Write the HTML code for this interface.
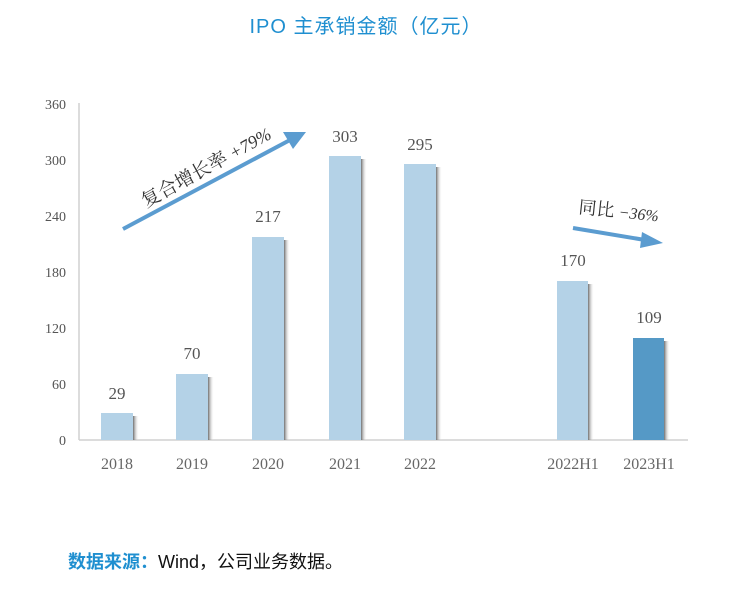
<!DOCTYPE html>
<html><head><meta charset="utf-8"><style>
body{margin:0;background:#fff;width:732px;height:599px;overflow:hidden}
svg text{font-family:"Liberation Serif","Noto Serif CJK SC",serif}
</style></head><body>
<svg width="732" height="599" xmlns="http://www.w3.org/2000/svg">
<defs>
<linearGradient id="sh" x1="0" x2="1"><stop offset="0" stop-color="#6f6f6f"/><stop offset="1" stop-color="#fff" stop-opacity="0"/></linearGradient>
</defs>
<text x="366" y="33" text-anchor="middle" font-size="20" fill="#1f8fd0" style="font-family:'Liberation Sans','Noto Sans CJK SC',sans-serif" letter-spacing="1">IPO 主承销金额（亿元）</text>
<g font-size="14" fill="#555" text-anchor="end">
<text x="66" y="109">360</text><text x="66" y="165">300</text><text x="66" y="221">240</text>
<text x="66" y="277">180</text><text x="66" y="333">120</text><text x="66" y="389">60</text><text x="66" y="445">0</text>
</g>
<line x1="79" y1="103" x2="79" y2="440" stroke="#d0d0d0" stroke-width="1.5"/>
<line x1="79" y1="440" x2="688" y2="440" stroke="#d0d0d0" stroke-width="1.5"/>
<g>
<rect x="133" y="416" width="6" height="24" fill="url(#sh)"/><rect x="101" y="413" width="32" height="27" fill="#b4d2e7"/>
<rect x="208" y="377" width="6" height="63" fill="url(#sh)"/><rect x="176" y="374" width="32" height="66" fill="#b4d2e7"/>
<rect x="284" y="240" width="6" height="200" fill="url(#sh)"/><rect x="252" y="237" width="32" height="203" fill="#b4d2e7"/>
<rect x="361" y="159" width="6" height="281" fill="url(#sh)"/><rect x="329" y="156" width="32" height="284" fill="#b4d2e7"/>
<rect x="436" y="167" width="6" height="273" fill="url(#sh)"/><rect x="404" y="164" width="32" height="276" fill="#b4d2e7"/>
<rect x="588" y="284" width="6" height="156" fill="url(#sh)"/><rect x="557" y="281" width="31" height="159" fill="#b4d2e7"/>
<rect x="664" y="341" width="6" height="99" fill="url(#sh)"/><rect x="633" y="338" width="31" height="102" fill="#5599c6"/>
</g>
<g font-size="17" fill="#555" text-anchor="middle">
<text x="117" y="399">29</text><text x="192" y="359">70</text><text x="268" y="222">217</text>
<text x="345" y="142">303</text><text x="420" y="150">295</text><text x="573" y="266">170</text><text x="649" y="323">109</text>
</g>
<g font-size="16" fill="#666" text-anchor="middle">
<text x="117" y="469">2018</text><text x="192" y="469">2019</text><text x="268" y="469">2020</text>
<text x="345" y="469">2021</text><text x="420" y="469">2022</text><text x="573" y="469">2022H1</text><text x="649" y="469">2023H1</text>
</g>
<line x1="123" y1="229" x2="290" y2="140" stroke="#5b9cd0" stroke-width="4"/>
<polygon points="306,132 283,132 293,149" fill="#5b9cd0"/>
<text transform="translate(146,208) rotate(-29)" font-size="19" fill="#333">复合增长率 <tspan font-style="italic" font-size="18">+79%</tspan></text>
<line x1="573" y1="228" x2="645" y2="240" stroke="#5b9cd0" stroke-width="4"/>
<polygon points="663,243 642,232 640,248" fill="#5b9cd0"/>
<text transform="translate(578,213) rotate(6)" font-size="18" fill="#333">同比 <tspan font-size="16" font-style="italic">−36%</tspan></text>
<text x="68" y="568" font-size="18" style="font-family:'Liberation Sans','Noto Sans CJK SC',sans-serif"><tspan fill="#1f8fd0" font-weight="bold">数据来源：</tspan><tspan fill="#111">Wind，公司业务数据。</tspan></text>
</svg>
</body></html>
